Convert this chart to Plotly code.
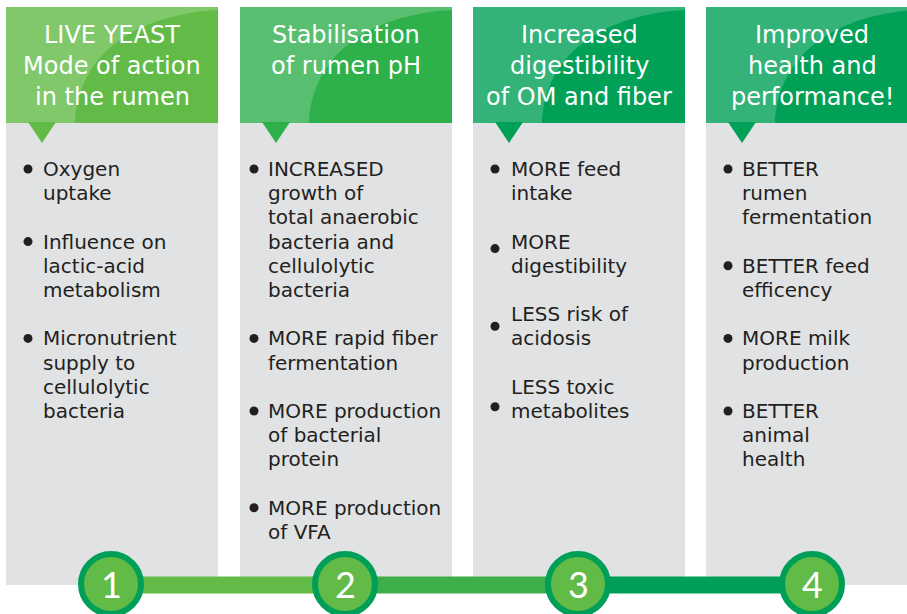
import plotly.graph_objects as go

# ---------------- data ----------------
step_numbers = ["1", "2", "3", "4"]
header_lines = [
    ["LIVE YEAST", "Mode of action", "in the rumen"],
    ["Stabilisation", "of rumen pH"],
    ["Increased", "digestibility", "of OM and fiber"],
    ["Improved", "health and", "performance!"],
]
# each bullet item = list of text lines
bullet_items = [
    [["Oxygen", "uptake"],
     ["Influence on", "lactic-acid", "metabolism"],
     ["Micronutrient", "supply to", "cellulolytic", "bacteria"]],
    [["INCREASED", "growth of", "total anaerobic", "bacteria and", "cellulolytic", "bacteria"],
     ["MORE rapid fiber", "fermentation"],
     ["MORE production", "of bacterial", "protein"],
     ["MORE production", "of VFA"]],
    [["MORE feed", "intake"],
     ["MORE", "digestibility"],
     ["LESS risk of", "acidosis"],
     ["LESS toxic", "metabolites"]],
    [["BETTER", "rumen", "fermentation"],
     ["BETTER feed", "efficency"],
     ["MORE milk", "production"],
     ["BETTER", "animal", "health"]],
]

# ---------------- styling / layout constants ----------------
W, H = 907, 614
col_left = [6, 240, 473, 706]
col_w = 212
body_bottom = [585, 577, 577, 585]
hdr_top, hdr_bot = 7, 123
hdr_colors = ["#62BB46", "#2EB04B", "#00A056", "#00A056"]
body_color = "#E1E2E4"
text_dark = "#231F20"
text_off = [35, 26, 36, 34]
bullet_off = [22, 14, 22, 22]
# bullet vertical offset relative to first line of item (col 3 is irregular)
bullet_dy = [[0, 0, 0], [0, 0, 0, 0], [0, 7, 12, 20], [0, 0, 0, 0]]
line0, line_h = 169, 24.2
circle_y, circle_r = 584, 30
circle_fill, circle_edge = "#62BB46", "#009F57"
circle_x = [111, 345, 578, 812]
conn_colors = ["#62BB46", "#3DAE49", "#009F57"]
FONT = "DejaVu Sans, sans-serif"

fig = go.Figure()
shapes, annos = [], []

for i, L in enumerate(col_left):
    R = L + col_w
    # body
    shapes.append(dict(type="rect", x0=L, x1=R, y0=hdr_bot, y1=body_bottom[i],
                       fillcolor=body_color, line_width=0, layer="below"))
    # header
    shapes.append(dict(type="rect", x0=L, x1=R, y0=hdr_top, y1=hdr_bot,
                       fillcolor=hdr_colors[i], line_width=0, layer="below"))
    # light overlay
    path = (f"M {L},{hdr_top} L {R},{hdr_top} L {R},{hdr_top+3} "
            f"C {L+125},{hdr_top+8} {L+72},{hdr_top+50} {L+69},{hdr_bot} "
            f"L {L},{hdr_bot} Z")
    shapes.append(dict(type="path", path=path, fillcolor="rgba(255,255,255,0.2)",
                       line_width=0, layer="below"))
    # pointer triangle
    tri = f"M {L+22},{hdr_bot-1} L {L+50},{hdr_bot-1} L {L+36},{hdr_bot+20} Z"
    shapes.append(dict(type="path", path=tri, fillcolor=hdr_colors[i],
                       line_width=0, layer="below"))
    # header text
    for k, txt in enumerate(header_lines[i]):
        annos.append(dict(x=L + col_w / 2, y=35 + 31 * k, text=txt, showarrow=False,
                          xanchor="center", yanchor="middle",
                          font=dict(family=FONT, size=24, color="white")))
    # bullets
    n = 0
    bx, by = [], []
    for j, item in enumerate(bullet_items[i]):
        bx.append(L + bullet_off[i])
        by.append(line0 + line_h * n + bullet_dy[i][j])
        for txt in item:
            annos.append(dict(x=L + text_off[i], y=line0 + line_h * n, text=txt,
                              showarrow=False, xanchor="left", yanchor="middle",
                              font=dict(family=FONT, size=20, color=text_dark)))
            n += 1
        n += 1
    fig.add_trace(go.Scatter(x=bx, y=by, mode="markers", hoverinfo="skip",
                             marker=dict(size=9, color=text_dark), showlegend=False))

# connectors
for s in range(3):
    shapes.append(dict(type="rect", x0=circle_x[s], x1=circle_x[s + 1],
                       y0=circle_y - 8.5 + 1, y1=circle_y + 8.5 + 1,
                       fillcolor=conn_colors[s], line_width=0, layer="above"))
# circles
for s, cx in enumerate(circle_x):
    shapes.append(dict(type="circle", x0=cx - circle_r, x1=cx + circle_r,
                       y0=circle_y - circle_r, y1=circle_y + circle_r,
                       fillcolor=circle_fill, line=dict(color=circle_edge, width=6),
                       layer="above"))
    annos.append(dict(x=cx, y=circle_y, text=step_numbers[s], showarrow=False,
                      xanchor="center", yanchor="middle",
                      font=dict(family="Lato, Open Sans, sans-serif", size=36, color="white")))

fig.update_layout(
    width=W, height=H, margin=dict(l=0, r=0, t=0, b=0),
    paper_bgcolor="white", plot_bgcolor="white",
    shapes=shapes, annotations=annos, showlegend=False,
    xaxis=dict(range=[0, W], visible=False, fixedrange=True),
    yaxis=dict(range=[H, 0], visible=False, fixedrange=True),
)
fig.write_html("out.html", config={"displayModeBar": False},
               post_script="document.body.style.margin='0';document.body.style.overflow='hidden';")
